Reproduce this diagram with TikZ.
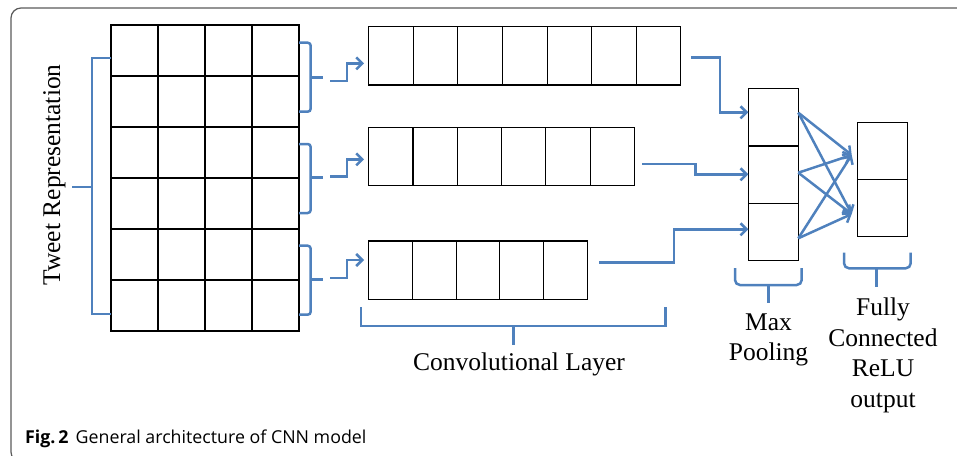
\documentclass[tikz,border=0pt]{standalone}
\usepackage{fontspec}
\setmainfont{Liberation Serif}
\newfontfamily\capfont{Open Sans}
\usetikzlibrary{arrows.meta,calc}
\definecolor{linkblue}{RGB}{79,129,189}
\definecolor{framegrey}{RGB}{90,90,90}
\begin{document}
\begin{tikzpicture}[x=1pt,y=-1pt,
  cellbox/.style={draw=black,line width=1.1pt,inner sep=0pt,outer sep=0pt,anchor=north west},
  rule/.style={draw=black,line width=1.1pt},
  brace/.style={draw=linkblue,line width=2.5pt},
  link/.style={draw=linkblue,line width=2.5pt,-{Straight Barb[length=6pt,width=12pt]}},
  lbl/.style={font=\fontsize{25.5}{30.5}\selectfont,inner sep=0pt,align=center}]

\useasboundingbox (0,0) rectangle (957,455);

% outer frame, open to the right and bottom
\begin{scope}
  \clip (0,0) rectangle (957,455);
  \draw[framegrey,line width=1.2pt,rounded corners=10pt] (975,8) -- (11,8) -- (11,462) -- (975,462);
\end{scope}

% tweet representation matrix
\node[cellbox,minimum width=188pt,minimum height=306pt] (tweet) at (111,25) {};
\foreach \c in {1,2,3} \draw[rule] (111+47*\c,25) -- (111+47*\c,331);
\foreach \r in {1,...,5} \draw[rule] (111,25+51*\r) -- (299,25+51*\r);

% convolutional feature maps
\node[cellbox,minimum width=312.2pt,minimum height=58.3pt] (conv1) at (368.7,26.7) {};
\foreach \c in {1,...,6} \draw[rule] (368.7+44.6*\c,26.7) -- (368.7+44.6*\c,85);
\node[cellbox,minimum width=265.6pt,minimum height=58pt] (conv2) at (368.7,127.7) {};
\foreach \c in {1,...,5} \draw[rule] (368.7+44.27*\c,127.7) -- (368.7+44.27*\c,185.7);
\node[cellbox,minimum width=218.6pt,minimum height=58.3pt] (conv3) at (368.7,241) {};
\foreach \c in {1,...,4} \draw[rule] (368.7+43.72*\c,241) -- (368.7+43.72*\c,299.3);

% max pooling and fully connected layers
\node[cellbox,minimum width=50pt,minimum height=172.4pt] (pool) at (748.3,88.3) {};
\draw[rule] (748.3,146) -- (798.3,146);
\draw[rule] (748.3,203.3) -- (798.3,203.3);
\node[cellbox,minimum width=49.6pt,minimum height=114.4pt] (fc) at (857.7,122.3) {};
\draw[rule] (857.7,179.7) -- (907.3,179.7);

% braces
\draw[brace] (111,58) -- (92,58) -- (92,314) -- (111,314);
\draw[brace] (92,187) -- (72,187);
\foreach \t/\m/\b in {42.7/77.3/111.7, 144/177.7/213, 245.7/279.3/314.7} {
  \draw[brace,rounded corners=3pt] (299,\t) -- (310.7,\t) -- (310.7,\b) -- (299,\b);
  \draw[brace] (310.7,\m) -- (323,\m);
}
\draw[brace] (361,307) -- (361,326) -- (665.7,326) -- (665.7,307);
\draw[brace] (513.3,326) -- (513.3,345);
\draw[brace,rounded corners=5pt] (735,268) -- (735,285) -- (801.7,285) -- (801.7,268);
\draw[brace] (768.3,285) -- (768.3,303);
\draw[brace,rounded corners=5pt] (844,252.7) -- (844,268.3) -- (910.7,268.3) -- (910.7,252.7);
\draw[brace] (876.7,268.3) -- (876.7,286.7);

% filter windows to feature maps
\coordinate (s1) at (330,81);
\coordinate (s2) at (330,176.7);
\coordinate (s3) at (330,278);
\draw[link] (s1) -- ++(17,0) |- ([xshift=-4.7pt,yshift=-36.6pt]conv1.north west);
\draw[link] (s2) -- ++(17,0) |- ([xshift=-4.7pt,yshift=-31.6pt]conv2.north west);
\draw[link] (s3) -- ++(17,0) |- ([xshift=-4.7pt,yshift=-19pt]conv3.north west);

% feature maps to pooling
\draw[link] ([xshift=10pt,yshift=-1.8pt]conv1.east) -- ++(29,0) |- ([yshift=-24pt]pool.north west);
\draw[link] ([xshift=8pt,yshift=-7.3pt]conv2.east) -- ++(53.4,0) |- ([yshift=-86pt]pool.north west);
\draw[link] ([xshift=12pt,yshift=7.85pt]conv3.east) -- ++(74.7,0) |- ([yshift=-141pt]pool.north west);

% pooling to fully connected
\foreach \s in {24.4,84.4,150}
  \foreach \t in {32.7,91.7}
    \draw[link] ([yshift=-\s pt]pool.north east) -- ([xshift=-6pt,yshift=-\t pt]fc.north west);

% labels (base anchor of a multi-line node sits on its last line)
\node[lbl,rotate=90,anchor=base] (tweetlbl) at (60,175) {Tweet Representation};
\node[lbl,anchor=base] (convlbl) at (519,370) {Convolutional Layer};
\node[lbl,anchor=base] (poollbl) at (768.5,360.7) {Max\\Pooling};
\node[lbl,anchor=base] (fclbl) at (883,407) {Fully\\Connected\\ReLU\\output};
\node[anchor=base west,inner sep=0pt,font=\capfont\fontsize{17.8}{20}\selectfont] (caption) at (25,443)
  {\textbf{Fig.\,2}\hspace{7pt}General architecture of CNN model};
\end{tikzpicture}
\end{document}
